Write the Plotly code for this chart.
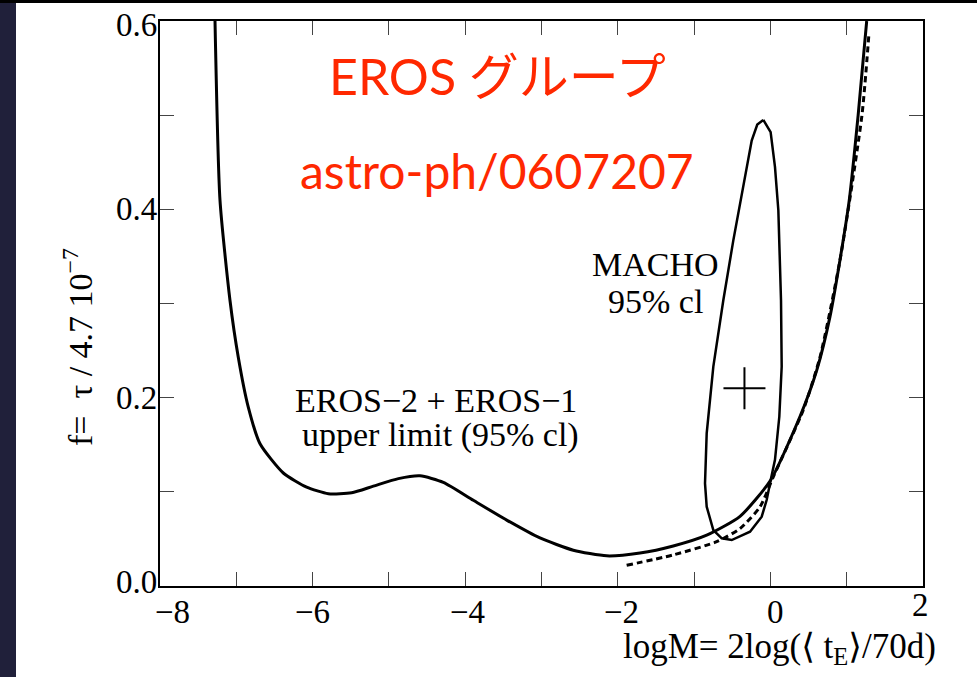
import plotly.graph_objects as go

# ---------------- data ----------------
eros_x = [-7.279, -7.214, -7.083, -6.974, -6.843, -6.689, -6.384, -6.078, -5.794,
          -5.488, -5.204, -4.876, -4.592, -4.287, -3.894, -3.456, -3.020, -2.583,
          -2.146, -1.709, -1.273, -0.835, -0.398, 0.0, 0.388, 0.607, 0.781, 0.934,
          1.034, 1.15, 1.262]
eros_y = [0.600, 0.410, 0.3035, 0.243, 0.190, 0.151, 0.120, 0.105, 0.098,
          0.099, 0.106, 0.114, 0.117, 0.110, 0.091, 0.070, 0.051, 0.038,
          0.032, 0.035, 0.0425, 0.054, 0.074, 0.112, 0.180, 0.229, 0.286, 0.357,
          0.410, 0.500, 0.600]

dashed_x = [-1.884, -1.273, -0.704, -0.398, -0.136, 0.038, 0.431, 0.650, 0.912, 1.20, 1.29]
dashed_y = [0.022, 0.033, 0.047, 0.061, 0.084, 0.116, 0.187, 0.243, 0.346, 0.500, 0.585]

macho_x = [-0.093, 0.003, 0.060, 0.104, 0.139, 0.148, 0.117, 0.060, 0.004, -0.049,
           -0.114, -0.267, -0.507, -0.638, -0.748, -0.835, -0.857, -0.835, -0.748,
           -0.617, -0.486, -0.355, -0.245, -0.172, -0.093]
macho_y = [0.495, 0.482, 0.445, 0.399, 0.3035, 0.233, 0.180, 0.134, 0.1125, 0.0913,
           0.0736, 0.0576, 0.0488, 0.0506, 0.0594, 0.0842, 0.109, 0.162, 0.233,
           0.3035, 0.367, 0.427, 0.473, 0.490, 0.495]

macho_point_x = [-0.34]
macho_point_y = [0.21]

x_tickvals = [-8, -6, -4, -2, 0, 2]
x_ticktext = ["−8", "−6", "−4", "−2", "0", "2"]
y_tickvals = [0.0, 0.2, 0.4, 0.6]
y_ticktext = ["0.0", "0.2", "0.4", "0.6"]

x_title = "logM= 2log(⟨ t<sub>E</sub>⟩/70d)"
y_title = "f=  τ / 4.7 10<sup>−7</sup>"
red_line1 = "EROS グループ"
red_line2 = "astro-ph/0607207"
label_eros = ["EROS−2 + EROS−1", "upper limit (95% cl)"]
label_macho = ["MACHO", "95% cl"]

# ---------------- style ----------------
SERIF = "Liberation Serif, Times New Roman, DejaVu Serif, serif"
RED = "#ff2800"
W, H = 977, 677
L, R, T, B = 160, 54, 21, 91
PW, PH = W - L - R, H - T - B

def px(xp):
    return (xp - L) / PW

def py(yp):
    return (H - B - yp) / PH

fig = go.Figure()

fig.add_trace(go.Scatter(x=eros_x, y=eros_y, mode="lines",
                         line=dict(color="black", width=3, shape="spline", smoothing=0.6),
                         showlegend=False, hoverinfo="skip"))
fig.add_trace(go.Scatter(x=dashed_x, y=dashed_y, mode="lines",
                         line=dict(color="black", width=3, dash="6px,4px", shape="spline", smoothing=0.6),
                         showlegend=False, hoverinfo="skip"))
fig.add_trace(go.Scatter(x=macho_x, y=macho_y, mode="lines",
                         line=dict(color="black", width=2.5),
                         showlegend=False, hoverinfo="skip"))
fig.add_trace(go.Scatter(x=macho_point_x, y=macho_point_y, mode="markers",
                         marker=dict(symbol="cross-thin", size=30,
                                     line=dict(color="black", width=2)),
                         showlegend=False, hoverinfo="skip"))

axis_common = dict(showgrid=False, zeroline=False, showline=True, linecolor="black",
                   linewidth=1.5, mirror="ticks", ticks="inside", ticklen=14,
                   tickwidth=1.3, tickcolor="#444", showticklabels=False)
fig.update_xaxes(range=[-8, 2], dtick=1, tick0=-8, **axis_common)
fig.update_yaxes(range=[0, 0.6], dtick=0.1, tick0=0, **axis_common)

ann = []
# x tick labels
x_shift = {-8: (12, -26), -6: (0, -26), -4: (2, -26), -2: (4, -26), 0: (5, -26), 2: (-3, -19)}
for v, t in zip(x_tickvals, x_ticktext):
    dx, dy = x_shift[v]
    ann.append(dict(x=v, y=0, xref="x", yref="paper", text=t, showarrow=False,
                    xanchor="center", yanchor="middle", xshift=dx, yshift=dy,
                    font=dict(family=SERIF, size=33, color="black")))
# y tick labels
y_shift = {0.0: 4, 0.2: 0, 0.4: 0, 0.6: -4}
for v, t in zip(y_tickvals, y_ticktext):
    ann.append(dict(x=0, y=v, xref="paper", yref="y", text=t, showarrow=False,
                    xanchor="right", yanchor="middle", xshift=-1, yshift=y_shift[v],
                    font=dict(family=SERIF, size=33, color="black")))
# axis titles
ann.append(dict(x=px(938), y=py(648), xref="paper", yref="paper", text=x_title,
                showarrow=False, xanchor="right", yanchor="middle",
                font=dict(family=SERIF, size=35, color="black")))
ann.append(dict(x=px(78), y=py(347), xref="paper", yref="paper", text=y_title,
                showarrow=False, xanchor="center", yanchor="middle", textangle=-90,
                font=dict(family=SERIF, size=34, color="black")))
# red text
ann.append(dict(x=px(497), y=py(76), xref="paper", yref="paper", text=red_line1,
                showarrow=False, xanchor="center", yanchor="middle",
                font=dict(family="Lato, Noto Sans CJK JP, sans-serif", size=50, color=RED)))
ann.append(dict(x=px(497), y=py(170), xref="paper", yref="paper", text=red_line2,
                showarrow=False, xanchor="center", yanchor="middle",
                font=dict(family="Lato, Noto Sans CJK JP, sans-serif", size=48, color=RED)))
# curve labels
for txt, (cx, cy) in zip(label_eros, [(436, 400), (440, 435)]):
    ann.append(dict(x=px(cx), y=py(cy), xref="paper", yref="paper", text=txt,
                    showarrow=False, xanchor="center", yanchor="middle",
                    font=dict(family=SERIF, size=34, color="black")))
for txt, (cx, cy) in zip(label_macho, [(655, 264), (655, 301)]):
    ann.append(dict(x=px(cx), y=py(cy), xref="paper", yref="paper", text=txt,
                    showarrow=False, xanchor="center", yanchor="middle",
                    font=dict(family=SERIF, size=34, color="black")))

shapes = [
    dict(type="rect", xref="paper", yref="paper", x0=px(0), x1=px(16), y0=py(H), y1=py(0),
         fillcolor="#20203a", line=dict(width=0), layer="above"),
    dict(type="rect", xref="paper", yref="paper", x0=px(0), x1=px(W), y0=py(3), y1=py(0),
         fillcolor="black", line=dict(width=0), layer="above"),
]

fig.update_layout(width=W, height=H, margin=dict(l=L, r=R, t=T, b=B),
                  paper_bgcolor="white", plot_bgcolor="white",
                  annotations=ann, shapes=shapes, showlegend=False)

fig.write_html("out.html")
